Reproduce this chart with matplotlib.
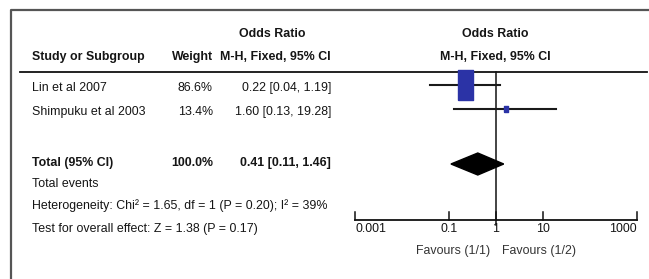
import matplotlib.pyplot as plt
from matplotlib import font_manager
from matplotlib.path import Path

installed = {f.name for f in font_manager.fontManager.ttflist}
if 'Liberation Sans Narrow' in installed:
    plt.rcParams['font.family'] = ['Liberation Sans Narrow', 'DejaVu Sans']
    fs = 10.5
else:
    plt.rcParams['font.family'] = ['Liberation Sans', 'DejaVu Sans']
    fs = 8.9

studies = ['Lin et al 2007', 'Shimpuku et al 2003']
weights = [86.6, 13.4]
odds = [0.22, 1.60]
ci_low = [0.04, 0.13]
ci_high = [1.19, 19.28]

total_or = 0.41
total_low = 0.11
total_high = 1.46
total_weight = 100.0

ticks = [0.001, 0.1, 1, 10, 1000]
tick_labels = ['0.001', '0.1', '1', '10', '1000']
tick_ha = ['left', 'center', 'center', 'center', 'right']

W, H = 649, 279
fig = plt.figure(figsize=(W / 100, H / 100), dpi=100)

# table axes in pixel coordinates
ax = fig.add_axes([0, 0, 1, 1])
ax.set_xlim(0, W)
ax.set_ylim(H, 0)
ax.axis('off')

ax.plot([11, 11, W + 5], [H + 5, 10, 10], color='#555555', lw=1.6, clip_on=False)
ax.plot([20, 647], [72, 72], color='#111111', lw=1.3)

tc = '#151515'
ax.text(272, 34, 'Odds Ratio', ha='center', va='center', fontsize=fs, fontweight='bold', color=tc)
ax.text(32, 57, 'Study or Subgroup', ha='left', va='center', fontsize=fs, fontweight='bold', color=tc)
ax.text(213, 57, 'Weight', ha='right', va='center', fontsize=fs, fontweight='bold', color=tc)
ax.text(331, 57, 'M-H, Fixed, 95% CI', ha='right', va='center', fontsize=fs, fontweight='bold', color=tc)
ax.text(495, 34, 'Odds Ratio', ha='center', va='center', fontsize=fs, fontweight='bold', color=tc)
ax.text(495, 57, 'M-H, Fixed, 95% CI', ha='center', va='center', fontsize=fs, fontweight='bold', color=tc)

row_y = [88, 112]
for name, w, o, lo, hi, y in zip(studies, weights, odds, ci_low, ci_high, row_y):
    ax.text(32, y, name, ha='left', va='center', fontsize=fs, color=tc)
    ax.text(213, y, '%.1f%%' % w, ha='right', va='center', fontsize=fs, color=tc)
    ax.text(331, y, '%.2f [%.2f, %.2f]' % (o, lo, hi), ha='right', va='center', fontsize=fs, color=tc)

ty = 163
ax.text(32, ty, 'Total (95% CI)', ha='left', va='center', fontsize=fs, fontweight='bold', color=tc)
ax.text(213, ty, '%.1f%%' % total_weight, ha='right', va='center', fontsize=fs, fontweight='bold', color=tc)
ax.text(331, ty, '%.2f [%.2f, %.2f]' % (total_or, total_low, total_high), ha='right',
        va='center', fontsize=fs, fontweight='bold', color=tc)
ax.text(32, 184, 'Total events', ha='left', va='center', fontsize=fs, color=tc)
ax.text(32, 206, 'Heterogeneity: Chi\u00b2 = 1.65, df = 1 (P = 0.20); I\u00b2 = 39%', ha='left',
        va='center', fontsize=fs, color=tc)
ax.text(32, 229, 'Test for overall effect: Z = 1.38 (P = 0.17)', ha='left', va='center',
        fontsize=fs, color=tc)

# forest axes, log scale
x0, x1 = 355, 637
fx = fig.add_axes([x0 / W, 0, (x1 - x0) / W, 1])
fx.set_xscale('log')
fx.set_xlim(1e-3, 1e3)
fx.set_ylim(H, 0)
fx.axis('off')
fx.patch.set_alpha(0)

axis_y = 220
fx.plot([1, 1], [72, 225], color='#111111', lw=1.1, clip_on=False)
fx.plot([1e-3, 1e3], [axis_y, axis_y], color='#111111', lw=1.3, clip_on=False)
for t, lab, ha in zip(ticks, tick_labels, tick_ha):
    fx.plot([t, t], [axis_y - 8, axis_y], color='#111111', lw=1.1, clip_on=False)
    fx.text(t, 229, lab, ha=ha, va='center', fontsize=fs, color=tc, clip_on=False)
fx.text(0.75, 251, 'Favours (1/1)', ha='right', va='center', fontsize=fs, color='#333333')
fx.text(1.35, 251, 'Favours (1/2)', ha='left', va='center', fontsize=fs, color='#333333')

box = Path([(-0.5, -1), (0.5, -1), (0.5, 1), (-0.5, 1), (-0.5, -1)])
for w, o, lo, hi, y in zip(weights, odds, ci_low, ci_high, row_y):
    yc = y - 3
    fx.plot([lo, hi], [yc, yc], color='#1a1a1a', lw=1.5, zorder=2)
    ms = w * 30 / 86.6 * 0.72
    fx.plot([o], [yc], marker=box, ms=max(ms, 4.5), color='#2b33a6', mec='#2b33a6', zorder=3)

dy = 11
fx.fill([total_low, total_or, total_high, total_or], [164, 164 - dy, 164, 164 + dy],
        color='black', zorder=3)

fig.savefig('out.png', dpi=100)
